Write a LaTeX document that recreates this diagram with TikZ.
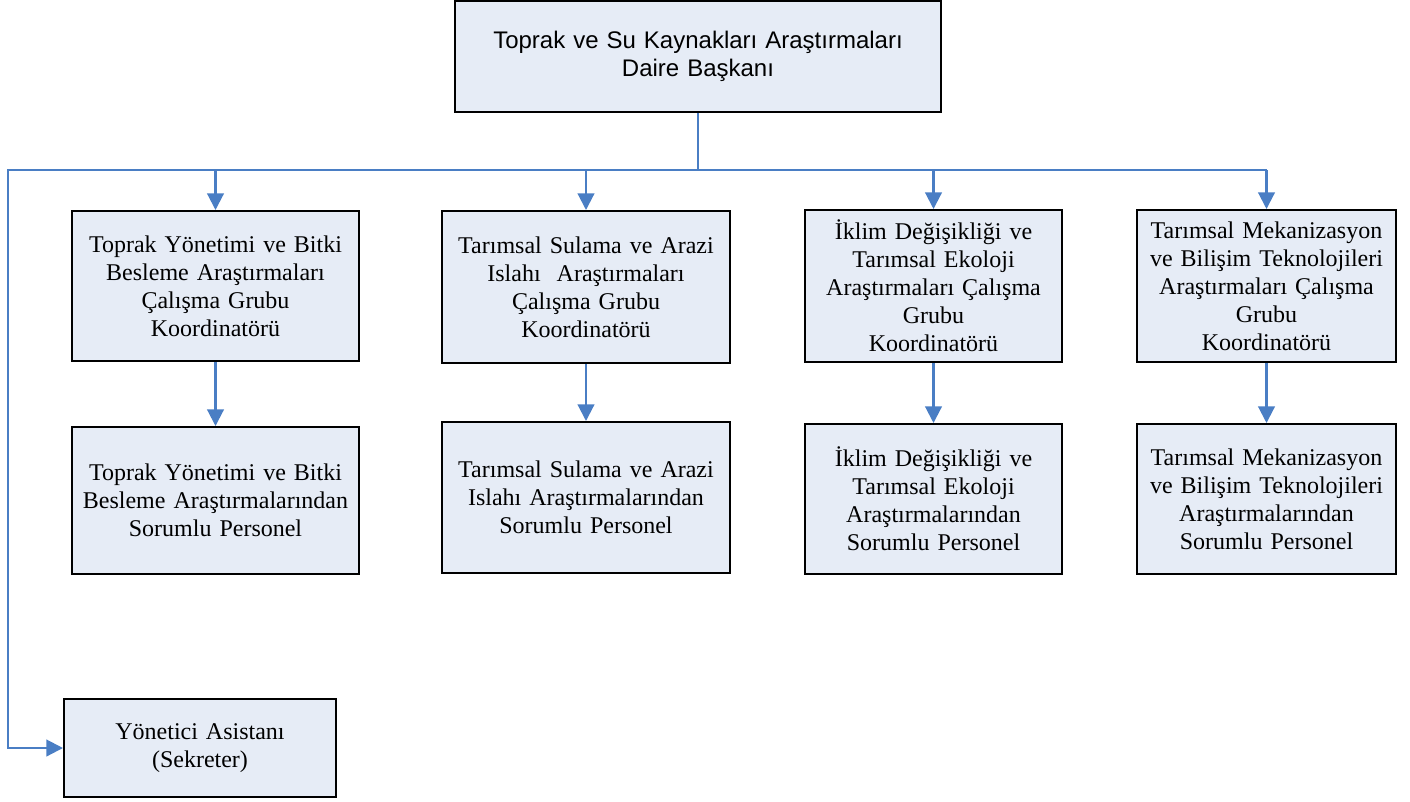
\documentclass[tikz,border=0pt]{standalone}
\usepackage{fontspec}
\setmainfont{Liberation Serif}
\newfontfamily\sansfnt{Liberation Sans}
\usetikzlibrary{arrows.meta}
\definecolor{boxfill}{RGB}{230,236,246}
\definecolor{linkblue}{RGB}{74,126,196}
\tikzset{
  orgbox/.style={draw=black, line width=1.5pt, fill=boxfill, rectangle, inner sep=0pt, align=center,
    font=\fontsize{18pt}{21pt}\selectfont},
  conn/.style={draw=linkblue, line width=1.6pt},
  arr/.style={conn, -{Triangle[width=12.5pt,length=12.5pt]}}
}
\begin{document}
\begin{tikzpicture}[x=0.75pt,y=-0.75pt]
\useasboundingbox (0,0) rectangle (1410,801);
\node[orgbox, minimum width=364.5pt, minimum height=83.25pt, text width=360pt,
  font=\sansfnt\fontsize{18pt}{20.5pt}\selectfont] (top) at (698,56.5)
  {Toprak ve Su Kaynakları Araştırmaları\\Daire Başkanı};

\node[orgbox, minimum width=215.25pt, minimum height=112.5pt, text width=210pt] (r1a) at (215.5,286)
  {Toprak Yönetimi ve Bitki\\Besleme Araştırmaları\\Çalışma Grubu\\Koordinatörü};
\node[orgbox, minimum width=216pt, minimum height=114pt, text width=210pt] (r1b) at (586,287)
  {Tarımsal Sulama ve Arazi\\Islahı\ \ Araştırmaları\\Çalışma Grubu\\Koordinatörü};
\node[orgbox, minimum width=192.75pt, minimum height=114pt, text width=188pt] (r1c) at (933.5,286)
  {İklim Değişikliği ve\\Tarımsal Ekoloji\\Araştırmaları Çalışma\\Grubu\\Koordinatörü};
\node[orgbox, minimum width=194.25pt, minimum height=114pt, text width=190pt] (r1d) at (1266.5,286)
  {Tarımsal Mekanizasyon\\ve Bilişim Teknolojileri\\Araştırmaları Çalışma\\Grubu\\Koordinatörü};

\node[orgbox, minimum width=215.25pt, minimum height=110.25pt, text width=210pt] (r2a) at (215.5,500.5)
  {Toprak Yönetimi ve Bitki\\Besleme Araştırmalarından\\Sorumlu Personel};
\node[orgbox, minimum width=216pt, minimum height=113.25pt, text width=210pt] (r2b) at (586,497.5)
  {Tarımsal Sulama ve Arazi\\Islahı Araştırmalarından\\Sorumlu Personel};
\node[orgbox, minimum width=192.75pt, minimum height=112.5pt, text width=188pt] (r2c) at (933.5,499)
  {İklim Değişikliği ve\\Tarımsal Ekoloji\\Araştırmalarından\\Sorumlu Personel};
\node[orgbox, minimum width=194.25pt, minimum height=112.5pt, text width=190pt] (r2d) at (1266.5,499)
  {Tarımsal Mekanizasyon\\ve Bilişim Teknolojileri\\Araştırmalarından\\Sorumlu Personel};

\node[orgbox, minimum width=204pt, minimum height=73.5pt, text width=200pt] (sec) at (200,748)
  {Yönetici Asistanı\\(Sekreter)};

\coordinate (bus) at (698,170);
\coordinate (busL) at (8,170);

\draw[conn] (top.south) -- (bus);
\draw[arr] (r1d.north |- bus) -- (busL) |- (sec.west);
\foreach \n in {r1a,r1b,r1c,r1d}{
  \draw[arr] (\n.north |- bus) -- (\n.north);
}
\draw[arr] (r1a.south) -- (r2a.north);
\draw[arr] (r1b.south) -- (r2b.north);
\draw[arr] (r1c.south) -- (r2c.north);
\draw[arr] (r1d.south) -- (r2d.north);
\end{tikzpicture}
\end{document}
